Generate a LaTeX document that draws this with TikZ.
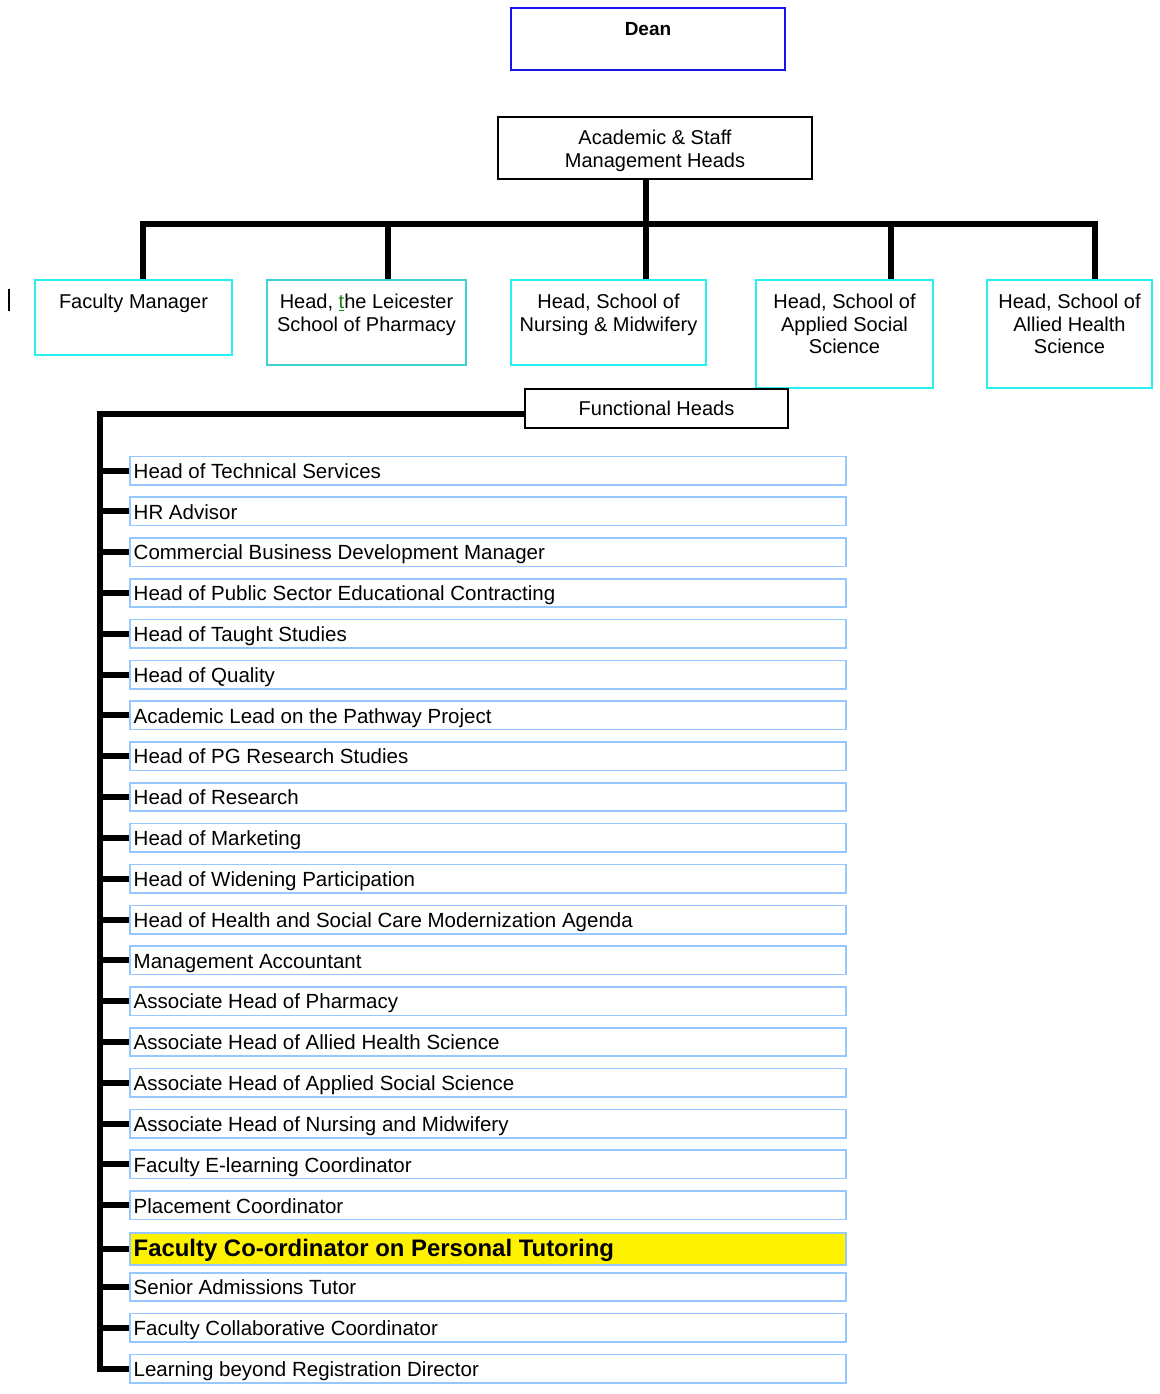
\documentclass[tikz,border=0pt]{standalone}
\usepackage{fontspec}
\setmainfont{Liberation Sans}
\definecolor{deanblue}{RGB}{20,20,235}
\definecolor{headcyan}{RGB}{40,240,240}
\definecolor{pharmteal}{RGB}{60,210,210}
\definecolor{rowblue}{RGB}{150,200,255}
\definecolor{markgreen}{RGB}{20,130,20}
\begin{document}
\begin{tikzpicture}[x=1pt,y=-1pt,
  box/.style={draw, rectangle, inner sep=0pt, line width=1.6pt},
  headbox/.style={box, draw=headcyan},
  rowbox/.style={box, draw=rowblue, minimum width=716.4pt, minimum height=28.4pt},
  txt/.style={inner sep=0pt, font=\fontsize{20}{22.5}\selectfont, align=center},
  rowtxt/.style={inner sep=0pt, anchor=west, font=\fontsize{20.5}{24}\selectfont,
                 text height=14.5pt, text depth=3pt},
  bar/.style={line width=6pt, line join=miter, line cap=butt}]
\useasboundingbox (0,0) rectangle (1159,1394);

% top of the chart
\node[box, draw=deanblue, minimum width=274.4pt, minimum height=62.4pt] (dean) at (648,39) {};
\node[txt, font=\bfseries\fontsize{19}{22}\selectfont] (deant) at (648,29) {Dean};

\node[box, minimum width=314.4pt, minimum height=62.4pt] (asm) at (655,148) {};
\node[txt, anchor=north, font=\fontsize{20}{23}\selectfont] (asmt) at (655,130) {Academic \& Staff\\Management Heads};

% school heads
\node[headbox, minimum width=197.4pt, minimum height=75.4pt] (fm) at (133.5,317.5) {};
\node[headbox, draw=pharmteal, minimum width=199.4pt, minimum height=85.4pt] (ph) at (366.5,322.5) {};
\node[headbox, minimum width=195.4pt, minimum height=85.4pt] (nm) at (608.5,322.5) {};
\node[headbox, minimum width=177.4pt, minimum height=108.4pt] (as) at (844.5,334) {};
\node[headbox, minimum width=165.4pt, minimum height=108.4pt] (ah) at (1069.5,334) {};

\node[txt, anchor=north] (fmt) at (133.5,294) {Faculty Manager};
\node[txt, anchor=north] (pht) at (366.5,294) {Head, {\color{markgreen}\underline{t}}he Leicester\\School of Pharmacy};
\node[txt, anchor=north] (nmt) at (608.5,294) {Head, School of\\Nursing \& Midwifery};
\node[txt, anchor=north] (ast) at (844.5,294) {Head, School of\\Applied Social\\Science};
\node[txt, anchor=north] (aht) at (1069.5,294) {Head, School of\\Allied Health\\Science};

% tree connectors
\coordinate (bl) at (143,224);
\coordinate (bm) at (646,224);
\coordinate (br) at (1095,224);
\draw[bar] (fm.north -| bl) -- (bl) -- (br) -- (ah.north -| br);
\draw[bar] (asm.south -| bm) -- (bm |- nm.north);
\draw[bar] (388,224) -- (ph.north -| 388,0);
\draw[bar] (891,224) -- (as.north -| 891,0);

% text cursor mark
\draw[line width=1.5pt] (9,289) -- (9,311);

% functional heads
\node[box, fill=white, minimum width=263.4pt, minimum height=39.4pt] (fh) at (656.5,408.5) {};
\node[txt] (fht) at (fh.center) {Functional Heads};

\foreach \t [count=\i from 0] in {
  Head of Technical Services,
  HR Advisor,
  Commercial Business Development Manager,
  Head of Public Sector Educational Contracting,
  Head of Taught Studies,
  Head of Quality,
  Academic Lead on the Pathway Project,
  Head of PG Research Studies,
  Head of Research,
  Head of Marketing,
  Head of Widening Participation,
  Head of Health and Social Care Modernization Agenda,
  Management Accountant,
  Associate Head of Pharmacy,
  Associate Head of Allied Health Science,
  Associate Head of Applied Social Science,
  Associate Head of Nursing and Midwifery,
  Faculty E-learning Coordinator,
  Placement Coordinator,
  {},
  Senior Admissions Tutor,
  Faculty Collaborative Coordinator,
  Learning beyond Registration Director}
{
  \ifnum\i=19\relax
  \else
    \node[rowbox] (r\i) at (488,470.5+40.82*\i) {};
    \node[rowtxt] (r\i t) at ([xshift=4.5pt,yshift=-2pt]r\i.west) {\t};
  \fi
}
\node[rowbox, fill=yellow, minimum height=32.4pt] (r19) at (488,1249) {};
\node[rowtxt, font=\bfseries\fontsize{23.9}{26}\selectfont, text height=17pt, text depth=4pt]
  (r19t) at ([xshift=4.5pt,yshift=-1pt]r19.west) {Faculty Co-ordinator on Personal Tutoring};

% list trunk and branches
\coordinate (vtop) at (100,414);
\draw[bar] (fh.west |- vtop) -- (vtop) -- (vtop |- r22.west) -- (r22.west);
\foreach \i in {0,...,21} {
  \draw[bar] (vtop |- r\i.west) -- (r\i.west);
}
\end{tikzpicture}
\end{document}
